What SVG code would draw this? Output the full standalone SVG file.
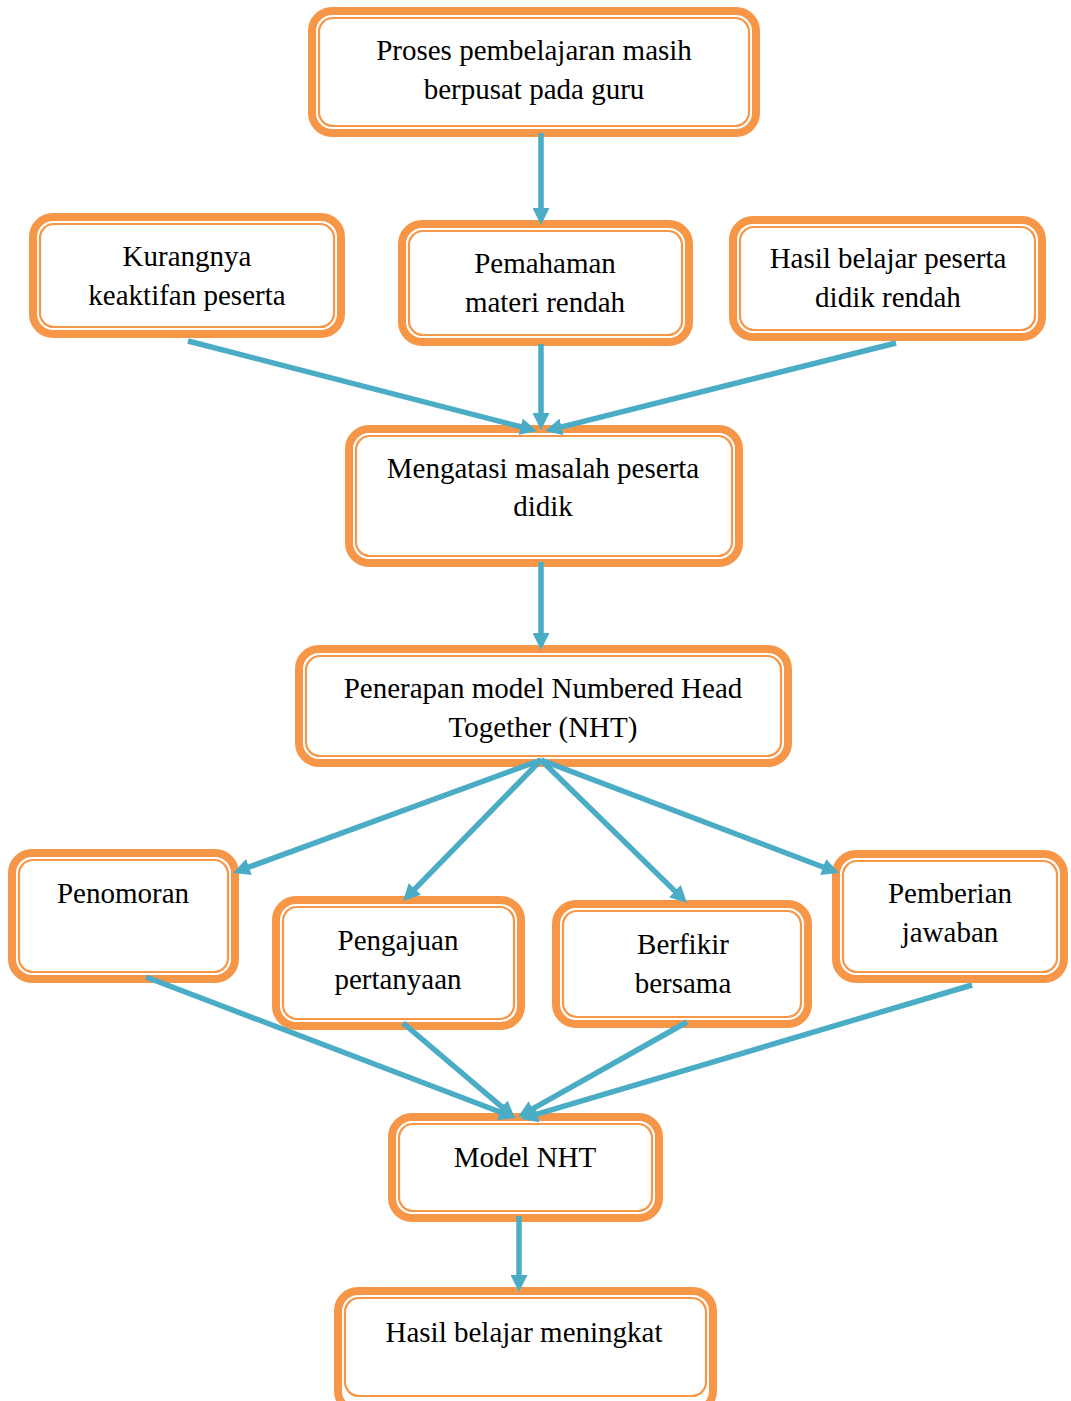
<svg xmlns="http://www.w3.org/2000/svg" width="1071" height="1401" viewBox="0 0 1071 1401">
<style>
.o{fill:#fff;stroke:#F79646;stroke-width:8}
.i{fill:none;stroke:#F79646;stroke-width:2.2}
.t{font-family:"Liberation Serif","Times New Roman",serif;font-size:29px;fill:#000;text-anchor:middle}
.c{stroke:#4BACC6;stroke-width:5.5;fill:none;marker-end:url(#ah)}
</style>
<defs>
<marker id="ah" viewBox="0 0 17 17" markerWidth="17" markerHeight="17" refX="9" refY="8.5" orient="auto" markerUnits="userSpaceOnUse">
<path d="M0,0 L17,8.5 L0,17 z" fill="#4BACC6"/>
</marker>
</defs>
<rect width="1071" height="1401" fill="#fff"/>
<g id="n1"><rect class="o" x="312" y="11" width="444" height="122" rx="20"/><rect class="i" x="319" y="18" width="430" height="108" rx="14"/>
<text class="t" x="534" y="60">Proses pembelajaran masih</text><text class="t" x="534" y="99">berpusat pada guru</text></g>
<g id="n2"><rect class="o" x="33" y="217" width="308" height="117" rx="20"/><rect class="i" x="40" y="224" width="294" height="103" rx="14"/>
<text class="t" x="187" y="266">Kurangnya</text><text class="t" x="187" y="305">keaktifan peserta</text></g>
<g id="n3"><rect class="o" x="402" y="224" width="287" height="118" rx="20"/><rect class="i" x="409" y="231" width="273" height="104" rx="14"/>
<text class="t" x="545" y="273">Pemahaman</text><text class="t" x="545" y="312">materi rendah</text></g>
<g id="n4"><rect class="o" x="733" y="220" width="309" height="117" rx="20"/><rect class="i" x="740" y="227" width="295" height="103" rx="14"/>
<text class="t" x="888" y="268">Hasil belajar peserta</text><text class="t" x="888" y="307">didik rendah</text></g>
<g id="n5"><rect class="o" x="349" y="429" width="390" height="134" rx="20"/><rect class="i" x="356" y="436" width="376" height="120" rx="14"/>
<text class="t" x="543" y="478">Mengatasi masalah peserta</text><text class="t" x="543" y="516">didik</text></g>
<g id="n6"><rect class="o" x="299" y="649" width="489" height="114" rx="20"/><rect class="i" x="306" y="656" width="475" height="100" rx="14"/>
<text class="t" x="543" y="698">Penerapan model Numbered Head</text><text class="t" x="543" y="737">Together (NHT)</text></g>
<g id="n7"><rect class="o" x="12" y="853" width="223" height="126" rx="20"/><rect class="i" x="19" y="860" width="209" height="112" rx="14"/>
<text class="t" x="123" y="903">Penomoran</text></g>
<g id="n8"><rect class="o" x="276" y="900" width="245" height="126" rx="20"/><rect class="i" x="283" y="907" width="231" height="112" rx="14"/>
<text class="t" x="398" y="950">Pengajuan</text><text class="t" x="398" y="989">pertanyaan</text></g>
<g id="n9"><rect class="o" x="556" y="904" width="252" height="120" rx="20"/><rect class="i" x="563" y="911" width="238" height="106" rx="14"/>
<text class="t" x="683" y="954">Berfikir</text><text class="t" x="683" y="993">bersama</text></g>
<g id="n10"><rect class="o" x="836" y="854" width="228" height="125" rx="20"/><rect class="i" x="843" y="861" width="214" height="111" rx="14"/>
<text class="t" x="950" y="903">Pemberian</text><text class="t" x="950" y="942">jawaban</text></g>
<g id="n11"><rect class="o" x="392" y="1117" width="267" height="101" rx="20"/><rect class="i" x="399" y="1124" width="253" height="87" rx="14"/>
<text class="t" x="525" y="1167">Model NHT</text></g>
<g id="n12"><rect class="o" x="338" y="1291" width="375" height="120" rx="20"/><rect class="i" x="345" y="1298" width="361" height="98" rx="14"/>
<text class="t" x="524" y="1342">Hasil belajar meningkat</text></g>
<g id="connectors">
<line class="c" x1="541" y1="133" x2="541" y2="217"/>
<line class="c" x1="188" y1="341" x2="529.3" y2="429"/>
<line class="c" x1="541" y1="344" x2="541" y2="422"/>
<line class="c" x1="896" y1="343" x2="552.8" y2="429.1"/>
<line class="c" x1="541" y1="562" x2="541" y2="642"/>
<line class="c" x1="541" y1="760" x2="240.5" y2="870.2"/>
<line class="c" x1="541" y1="760" x2="408.6" y2="895.3"/>
<line class="c" x1="541" y1="760" x2="681.3" y2="897.4"/>
<line class="c" x1="541" y1="760" x2="831.5" y2="870.2"/>
<line class="c" x1="146" y1="977" x2="508.5" y2="1115.2"/>
<line class="c" x1="403" y1="1023" x2="508.9" y2="1112.8"/>
<line class="c" x1="687" y1="1022" x2="525" y2="1113.1"/>
<line class="c" x1="972" y1="985" x2="528.7" y2="1116.7"/>
<line class="c" x1="519" y1="1216" x2="519" y2="1284"/>
</g>
</svg>
